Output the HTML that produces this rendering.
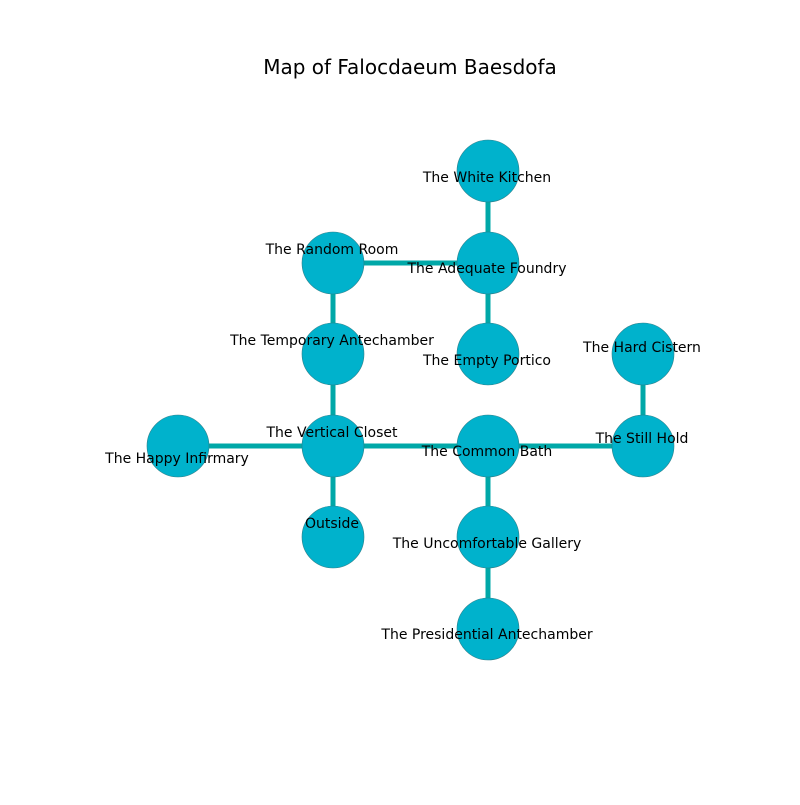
<!DOCTYPE html>
<html><head><style>body{margin:0;background:#fff}</style></head><body>
<svg width="800" height="800" xmlns="http://www.w3.org/2000/svg" font-family="DejaVu Sans, Liberation Sans, sans-serif">
<rect width="800" height="800" fill="#fff"/>
<text x="410" y="74" font-size="20" text-anchor="middle">Map of Falocdaeum Baesdofa</text>
<g stroke="#00a8a8" stroke-width="5">
<line x1="488" y1="171" x2="488" y2="263"/>
<line x1="333" y1="263" x2="488" y2="263"/>
<line x1="488" y1="263" x2="488" y2="354"/>
<line x1="333" y1="263" x2="333" y2="446"/>
<line x1="178" y1="446" x2="643" y2="446"/>
<line x1="333" y1="446" x2="333" y2="537"/>
<line x1="643" y1="354" x2="643" y2="446"/>
<line x1="488" y1="446" x2="488" y2="629"/>
</g>
<g fill="#00b2cc" stroke="#2a7f8a" stroke-width="0.6">
<circle cx="488" cy="171" r="31"/>
<circle cx="488" cy="263" r="31"/>
<circle cx="333" cy="263" r="31"/>
<circle cx="333" cy="354" r="31"/>
<circle cx="488" cy="354" r="31"/>
<circle cx="643" cy="354" r="31"/>
<circle cx="333" cy="446" r="31"/>
<circle cx="178" cy="446" r="31"/>
<circle cx="488" cy="446" r="31"/>
<circle cx="643" cy="446" r="31"/>
<circle cx="333" cy="537" r="31"/>
<circle cx="488" cy="537" r="31"/>
<circle cx="488" cy="629" r="31"/>
</g>
<g font-size="14" text-anchor="middle" fill="#000">
<text x="487" y="182">The White Kitchen</text>
<text x="487" y="273">The Adequate Foundry</text>
<text x="332" y="254">The Random Room</text>
<text x="332" y="345">The Temporary Antechamber</text>
<text x="487" y="365">The Empty Portico</text>
<text x="642" y="352">The Hard Cistern</text>
<text x="332" y="437">The Vertical Closet</text>
<text x="177" y="463">The Happy Infirmary</text>
<text x="487" y="456">The Common Bath</text>
<text x="642" y="443">The Still Hold</text>
<text x="332" y="528">Outside</text>
<text x="487" y="548">The Uncomfortable Gallery</text>
<text x="487" y="639">The Presidential Antechamber</text>
</g>
</svg>
</body></html>
